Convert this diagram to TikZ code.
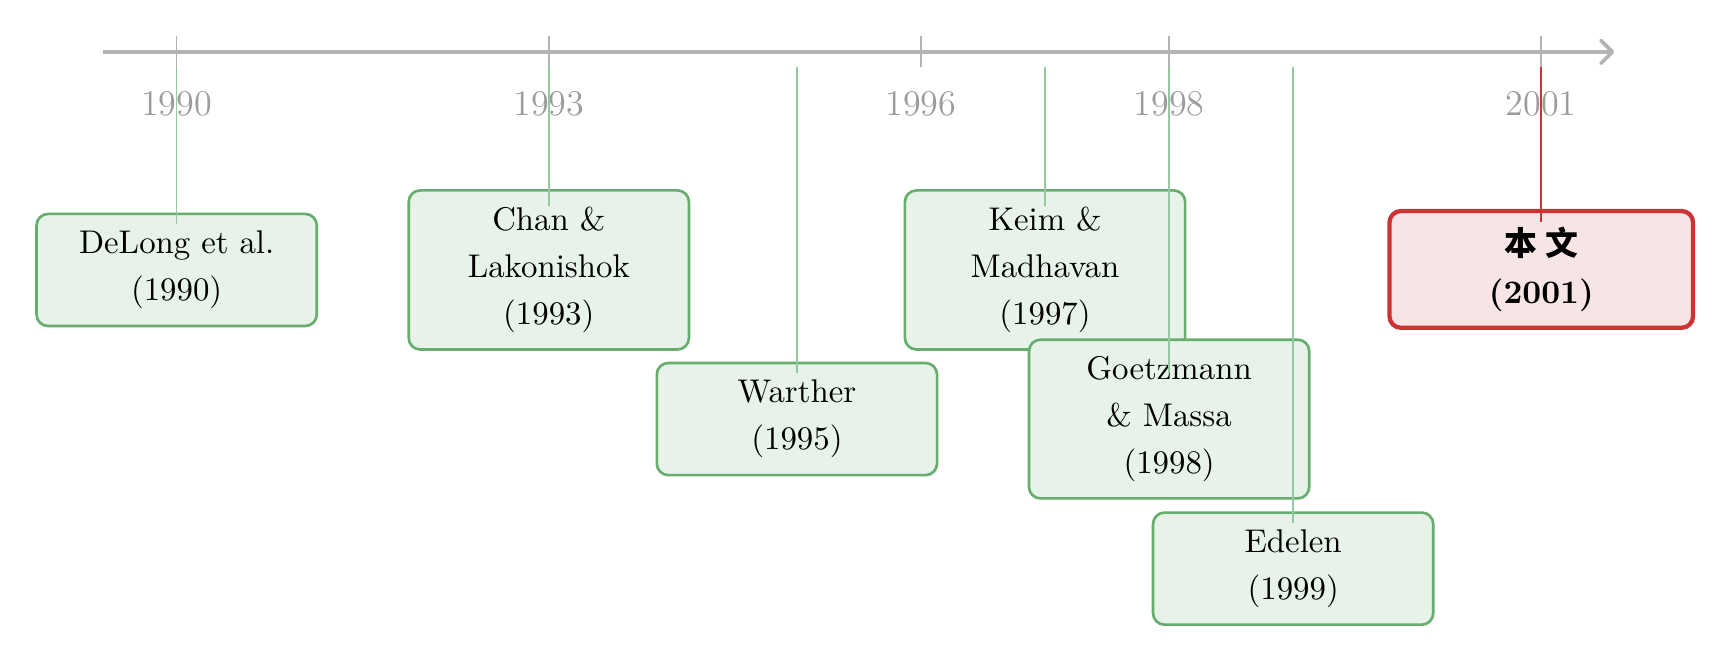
\documentclass[tikz,border=0pt]{standalone}
\usepackage{fontspec}
\newfontfamily\cjk{Noto Sans CJK SC}
\usetikzlibrary{arrows.meta}

\definecolor{axisgray}{HTML}{B3B3B3}
\definecolor{yeargray}{HTML}{9C9C9C}
\definecolor{paperline}{HTML}{66AD6E}
\definecolor{paperfill}{HTML}{E7F2E8}
\definecolor{linkgreen}{HTML}{94C9A0}
\definecolor{ownline}{HTML}{CC3333}
\definecolor{ownfill}{HTML}{F7E4E5}

\tikzset{
    paper/.style={draw=paperline, fill=paperfill, line width=0.8pt, rounded corners=3.5pt,
        align=center, minimum width=3cm, minimum height=1.2cm, inner ysep=5pt,
        font=\linespread{1.2}\selectfont},
    ownpaper/.style={paper, draw=ownline, fill=ownfill, line width=1.3pt,
        minimum width=3.25cm, font=\linespread{1.2}\selectfont\bfseries},
    link/.style={draw=linkgreen, line width=0.5pt},
    ownlink/.style={draw=ownline, line width=0.6pt},
    yeartick/.style={draw=axisgray, line width=0.5pt},
    yearlabel/.style={text=yeargray, font=\fontsize{11}{13}\selectfont}
}

\begin{document}
\begin{tikzpicture}
    \useasboundingbox (0,0) rectangle (18.53,-7.08);

    \coordinate (start) at (1.10, -0.556);
    \coordinate (end) at (17.28, -0.556);

    \coordinate (a1990) at (1.891, -0.39);
    \coordinate (b1990) at (1.891, -0.72);
    \coordinate (a1993) at (5.875, -0.39);
    \coordinate (b1993) at (5.875, -0.72);
    \coordinate (a1996) at (9.859, -0.39);
    \coordinate (b1996) at (9.859, -0.72);
    \coordinate (a1998) at (12.515, -0.39);
    \coordinate (b1998) at (12.515, -0.72);
    \coordinate (a2001) at (16.499, -0.39);
    \coordinate (b2001) at (16.499, -0.72);
    \coordinate (b1995) at (8.531, -0.72);
    \coordinate (b1997) at (11.187, -0.72);
    \coordinate (b1999) at (13.843, -0.72);

    \draw[axisgray, line width=1.1pt, -{Straight Barb[length=3.5pt, width=7pt, round]}] (start) -- (end);

    \draw[yeartick] (a1990) -- (b1990);
    \draw[yeartick] (a1993) -- (b1993);
    \draw[yeartick] (a1996) -- (b1996);
    \draw[yeartick] (a1998) -- (b1998);
    \draw[yeartick] (a2001) -- (b2001);

    \node[yearlabel] (y1990) at (1.891, -1.107) {1990};
    \node[yearlabel] (y1993) at (5.875, -1.107) {1993};
    \node[yearlabel] (y1996) at (9.859, -1.107) {1996};
    \node[yearlabel] (y1998) at (12.515, -1.107) {1998};
    \node[yearlabel] (y2001) at (16.499, -1.107) {2001};

    \node[paper] (delong) at (1.891, -2.890) {DeLong et al.\\(1990)};
    \node[paper] (chan) at (5.875, -2.890) {Chan \&\\Lakonishok\\(1993)};
    \node[paper] (warther) at (8.531, -4.486) {Warther\\(1995)};
    \node[paper] (keim) at (11.187, -2.890) {Keim \&\\Madhavan\\(1997)};
    \node[paper] (goetzmann) at (12.515, -4.486) {Goetzmann\\\& Massa\\(1998)};
    \node[paper] (edelen) at (13.843, -6.087) {Edelen\\(1999)};
    \node[ownpaper] (own) at (16.499, -2.884) {{\cjk 本 文}\\(2001)};

    \draw[link] (b1990) -- ([yshift=-3.5pt]delong.north);
    \draw[link] (b1993) -- ([yshift=-5pt]chan.north);
    \draw[link] (b1995) -- ([yshift=-3.5pt]warther.north);
    \draw[link] (b1997) -- ([yshift=-5pt]keim.north);
    \draw[link] (b1998) -- ([yshift=-10.5pt]goetzmann.north);
    \draw[link] (b1999) -- ([yshift=-3.7pt]edelen.north);
    \draw[ownlink] (b2001) -- ([yshift=-4pt]own.north);
\end{tikzpicture}
\end{document}
